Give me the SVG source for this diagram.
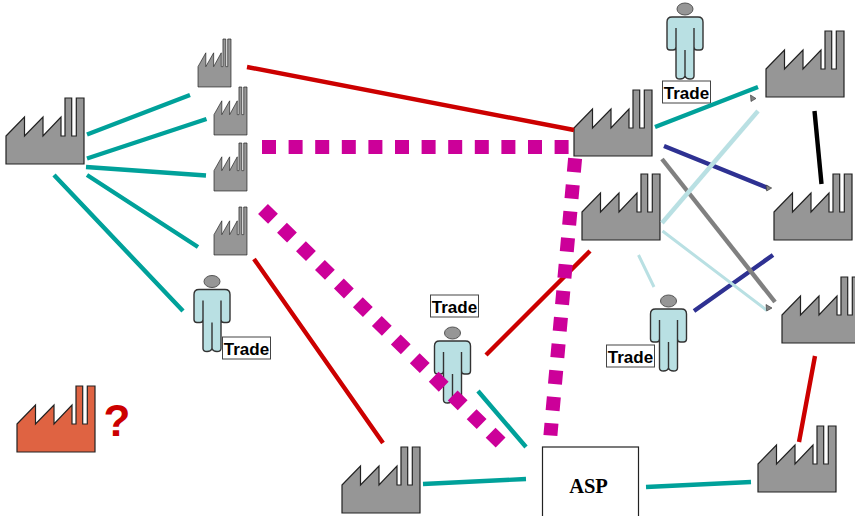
<svg xmlns="http://www.w3.org/2000/svg" width="855" height="516" viewBox="0 0 855 516">
<style>
.bg{fill:#fff}
.fac{fill:#969696;stroke:#222;stroke-width:1.2;vector-effect:non-scaling-stroke}
.body{fill:#b9e0e3;stroke:#333;stroke-width:1.4}
.head{fill:#969696;stroke:#555;stroke-width:1}
.lbl{fill:#fff;stroke:#444;stroke-width:1}
.t{font:bold 17px "Liberation Sans",Arial,sans-serif;fill:#000;text-anchor:middle}
.c{fill:none;stroke-width:4.400}
.teal{stroke:#00a19a}.red{stroke:#cc0000}.navy{stroke:#2e3192}.gray{stroke:#808080}.lb{stroke:#b9e0e3}.blk{stroke:#000}
.mag{fill:none;stroke:#cc0099;stroke-width:14;stroke-dasharray:14 12.6}
.tri{fill:#808080;stroke:#333;stroke-width:.6}
</style>
<defs>
<path id="f" d="M0 38L18.5 19V38L37 19V38L55 19V38H59V0H65.7V38H70.3V0H78V66H0Z"/>
<g id="p">
<ellipse cx="0" cy="6" rx="8" ry="6" class="head"/>
<path class="body" d="M-13 14H13Q18 14 18 19V44Q18 47 15 47H12Q9 47 9 44V25V73Q9 76 5 76Q1 76 0 73V47V73Q-1 76-5 76Q-9 76-9 73V25V44Q-9 47-12 47H-15Q-18 47-18 44V19Q-18 14-13 14Z"/>
</g>
</defs>
<rect class="bg" width="855" height="516"/>

<g id="factory-main"><use href="#f" class="fac" transform="translate(6 98)"/></g>
<g id="factory-s1"><use href="#f" class="fac" transform="translate(198 39) scale(.423 .727)"/></g>
<g id="factory-s2"><use href="#f" class="fac" transform="translate(214 87) scale(.423 .727)"/></g>
<g id="factory-s3"><use href="#f" class="fac" transform="translate(214 143) scale(.423 .727)"/></g>
<g id="factory-s4"><use href="#f" class="fac" transform="translate(214 207) scale(.423 .727)"/></g>
<g id="factory-c1"><use href="#f" class="fac" transform="translate(574 90)"/></g>
<g id="factory-c2"><use href="#f" class="fac" transform="translate(582 174)"/></g>
<g id="factory-r1"><use href="#f" class="fac" transform="translate(766 31)"/></g>
<g id="factory-r2"><use href="#f" class="fac" transform="translate(774 174)"/></g>
<g id="factory-r3"><use href="#f" class="fac" transform="translate(782 277)"/></g>
<g id="factory-r4"><use href="#f" class="fac" transform="translate(758 426)"/></g>
<g id="factory-b"><use href="#f" class="fac" transform="translate(342 447)"/></g>
<g id="factory-unknown"><use href="#f" class="fac" style="fill:#df6342" transform="translate(17 386)"/>
<text x="103.500" y="436" style="font:bold 44px 'Liberation Sans',Arial,sans-serif;fill:#cc0000">?</text></g>

<g id="asp"><rect x="542.500" y="447" width="96" height="72" fill="#fff" stroke="#222" stroke-width="1.2"/>
<text x="588.500" y="492.500" text-anchor="middle" style="font:bold 20.5px 'Liberation Serif','Times New Roman',serif">ASP</text></g>

<g id="person-1"><use href="#p" transform="translate(685 3)"/><rect class="lbl" x="662.500" y="81" width="48" height="22"/><text class="t" x="686.500" y="98.500">Trade</text></g>
<g id="person-2"><use href="#p" transform="translate(212 275.500)"/><rect class="lbl" x="222.500" y="337" width="48" height="22"/><text class="t" x="246.500" y="354.500">Trade</text></g>
<g id="person-3"><use href="#p" transform="translate(452.500 327)"/><rect class="lbl" x="430.500" y="295" width="48" height="22"/><text class="t" x="454.500" y="312.500">Trade</text></g>
<g id="person-4"><use href="#p" transform="translate(668.500 295)"/><rect class="lbl" x="606.500" y="345" width="48" height="22"/><text class="t" x="630.500" y="362.500">Trade</text></g>

<g id="connectors">
<path class="c teal" d="M87 134.500L190 95M87 158.500L206.500 119M86 167L206 175.500M87 175L198 247M54 175L183 311"/>
<path class="c teal" d="M655 127L758 87M478 391L526 447"/>
<path class="c teal" d="M423 484L526 479M646 487L751 482"/>
<path class="c red" d="M247 67L574 130M254 259L383 443M486 355L590 251M815 356L799 442"/>
<path class="c navy" d="M664 146L768 188M694 311L773 255"/>
<path class="c gray" d="M662 159L775 302"/>
<path class="c lb" d="M662 223L758 111"/>
<path class="c lb" style="stroke-width:3" d="M662.500 231L767 310.500M638.500 255L654 287"/>
<path class="c blk" d="M814.500 111L821.500 184"/>
<path class="mag" d="M262 147H575"/>
<path class="mag" d="M263 209L500.600 442.600"/>
<path class="mag" d="M575.100 158.300L550.400 435.500"/>
<polygon class="tri" points="750.500,95 751,101.500 756,98.500"/>
<polygon class="tri" points="766,185 766.700,191 771.700,188"/>
<polygon class="tri" points="766,304.500 766.700,311 772,308"/>
</g>
</svg>
